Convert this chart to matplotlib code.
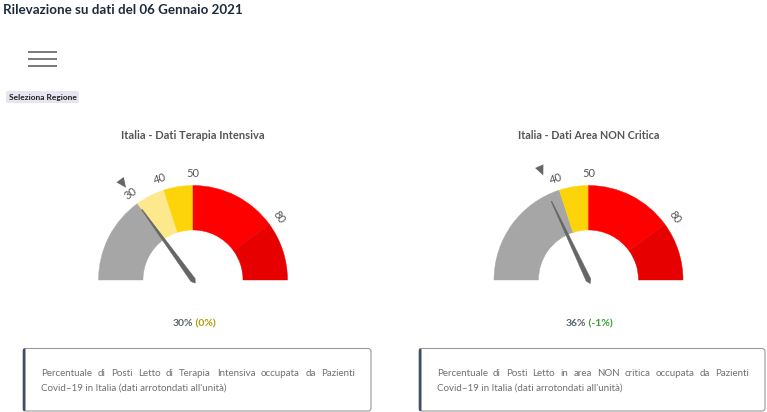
import matplotlib
matplotlib.use('Agg')
import matplotlib.pyplot as plt
from matplotlib.patches import Wedge, Polygon, FancyBboxPatch
from matplotlib import font_manager
import numpy as np

# ---------------- data ----------------
page_title = "Rilevazione su dati del 06 Gennaio 2021"
button_label = "Seleziona Regione"
gauge_titles = ["Italia - Dati Terapia Intensiva", "Italia - Dati Area NON Critica"]
ti_edges = [0, 30, 40, 50, 80, 100]
ti_colors = ['#a6a6a6', '#fee88e', '#fdd40a', '#fe0000', '#e60000']
nc_edges = [0, 40, 50, 80, 100]
nc_colors = ['#a6a6a6', '#fdd40a', '#fe0000', '#e60000']
current_values = [30, 36]
previous_values = [30, 37]
value_labels = ["30%", "36%"]
change_labels = ["(0%)", "(-1%)"]
change_colors = ['#b59c00', '#33a033']
descriptions = [
    ("Percentuale di Posti Letto di Terapia Intensiva occupata da Pazienti",
     "Covid–19 in Italia (dati arrotondati all'unità)"),
    ("Percentuale di Posti Letto in area NON critica occupata da Pazienti",
     "Covid–19 in Italia (dati arrotondati all'unità)"),
]

# ---------------- fonts ----------------
available = {f.name for f in font_manager.fontManager.ttflist}
FONT = 'Lato' if 'Lato' in available else 'DejaVu Sans'
BODY = FONT

# ---------------- layout ----------------
W, H = 767, 412
fig = plt.figure(figsize=(W / 100, H / 100), dpi=100)
ax = fig.add_axes([0, 0, 1, 1])
ax.set_xlim(0, W)
ax.set_ylim(0, H)
ax.axis('off')
renderer = fig.canvas.get_renderer()


def Y(y):
    return H - y


def fit(t, width):
    bb = t.get_window_extent(renderer)
    t.set_fontsize(t.get_fontsize() * width / bb.width)
    return t


def width_of(t):
    return t.get_window_extent(renderer).width


# page title
t = ax.text(3, Y(13.5), page_title, fontsize=10, fontweight='bold', family=FONT,
            color='#1c2b3b', ha='left', va='baseline')
fit(t, 239)

# hamburger
for yy in [52, 59, 66]:
    ax.plot([28, 57], [Y(yy), Y(yy)], color='#555555', lw=1.1, solid_capstyle='butt')

# button
ax.add_patch(FancyBboxPatch((6, Y(103)), 73, 12, boxstyle='round,pad=0,rounding_size=2',
                            fc='#e7e5ef', ec='none'))
t = ax.text(42.5, Y(97), button_label, fontsize=6, fontweight='bold', family=FONT,
            color='#222222', ha='center', va='center')
fit(t, 68)

centers_x = [193, 588.5]
cy = Y(280)
R_OUT, R_IN = 94.5, 50


def ang(v):
    return 180 - 180 * v / 100.0


gauges = [(ti_edges, ti_colors), (nc_edges, nc_colors)]
title_widths = [143.5, 141.7]
box_x = [(23, 371), (419, 765)]

for i, (edges, colors) in enumerate(gauges):
    cx = centers_x[i]
    # title
    t = ax.text(cx, Y(139), gauge_titles[i], fontsize=8, fontweight='bold', family=FONT,
                color='#555555', ha='center', va='baseline')
    fit(t, title_widths[i])
    # bands
    for lo, hi, c in zip(edges[:-1], edges[1:], colors):
        ax.add_patch(Wedge((cx, cy), R_OUT, ang(hi), ang(lo), width=R_OUT - R_IN,
                           fc=c, ec=c, lw=0.3))
    # tick labels at inner band boundaries
    for e in edges[1:-1]:
        a = np.deg2rad(ang(e))
        ax.text(cx + 106.5 * np.cos(a), cy + 106.5 * np.sin(a), str(e), fontsize=8,
                family=FONT, color='#555555', ha='center', va='center',
                rotation=ang(e) - 90, rotation_mode='anchor')
    # needle
    a = np.deg2rad(ang(current_values[i]))
    u = np.array([np.cos(a), np.sin(a)])
    v = np.array([-u[1], u[0]])
    c = np.array([cx, cy])
    pts = [c + 87 * u + 0.4 * v, c + 2.6 * v, c - 4 * u, c - 2.6 * v, c + 87 * u - 0.4 * v]
    ax.add_patch(Polygon(pts, closed=True, fc='#666666', ec='#666666', lw=0.3, zorder=5))
    # previous value marker
    a = np.deg2rad(ang(previous_values[i]))
    u = np.array([np.cos(a), np.sin(a)])
    v = np.array([-u[1], u[0]])
    tri = [c + 114 * u, c + 124 * u + 4.5 * v, c + 124 * u - 4.5 * v]
    ax.add_patch(Polygon(tri, closed=True, fc='#666666', ec='none', zorder=5))
    # value label
    t1 = ax.text(0, Y(326), value_labels[i], fontsize=7.5, fontweight='bold', family=FONT,
                 color='#5a6470', ha='left', va='baseline')
    t2 = ax.text(0, Y(326), ' ' + change_labels[i], fontsize=7.5, fontweight='bold',
                 family=FONT, color=change_colors[i], ha='left', va='baseline')
    w1, w2 = width_of(t1), width_of(t2)
    x0 = cx + 1 - (w1 + w2) / 2
    t1.set_x(x0)
    t2.set_x(x0 + w1)
    # description box
    bx0, bx1 = box_x[i]
    ax.add_patch(FancyBboxPatch((bx0, Y(411)), bx1 - bx0, 62.5,
                                boxstyle='round,pad=0,rounding_size=3',
                                fc='white', ec='#9a9a9a', lw=0.8))
    ax.add_patch(FancyBboxPatch((bx0, Y(411)), 2.5, 62.5,
                                boxstyle='round,pad=0,rounding_size=1',
                                fc='#3f5064', ec='none', zorder=3))
    line1, line2 = descriptions[i]
    tx0 = bx0 + 17.7
    t = ax.text(tx0, Y(391), line2, fontsize=7, family=BODY, color='#707070',
                ha='left', va='baseline')
    fit(t, 186)
    fs = t.get_fontsize()
    # justified first line
    words = line1.split(' ')
    tx1 = bx1 - 16
    wts = []
    for w in words:
        wt = ax.text(0, Y(376), w, fontsize=fs, family=BODY, color='#707070',
                     ha='left', va='baseline')
        wts.append(wt)
    widths = [width_of(wt) for wt in wts]
    gap = ((tx1 - tx0) - sum(widths)) / (len(words) - 1)
    xx = tx0
    for wt, wd in zip(wts, widths):
        wt.set_x(xx)
        xx += wd + gap

fig.savefig('out.png', dpi=100)
